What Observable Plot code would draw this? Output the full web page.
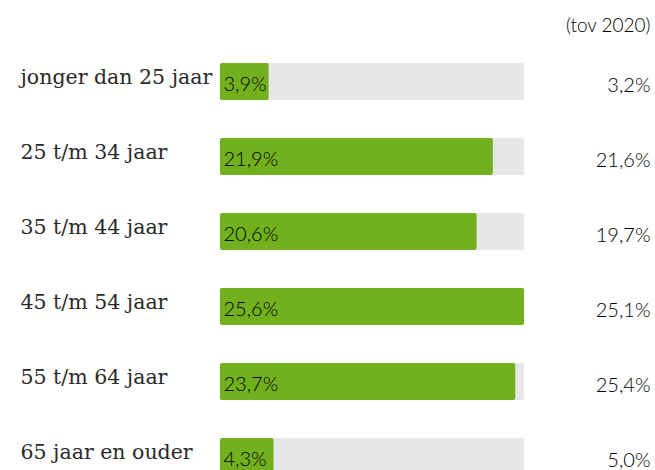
<!DOCTYPE html>
<html><head><meta charset="utf-8">
<script src="https://cdn.jsdelivr.net/npm/d3@7"></script>
<script src="https://cdn.jsdelivr.net/npm/@observablehq/plot@0.6"></script>
<style>body{margin:0;background:#fff}</style>
</head><body><div id="chart"></div>
<script>
const categories = ["jonger dan 25 jaar","25 t/m 34 jaar","35 t/m 44 jaar","45 t/m 54 jaar","55 t/m 64 jaar","65 jaar en ouder"];
const values2021 = [3.9, 21.9, 20.6, 25.6, 23.7, 4.3];
const values2020 = [3.2, 21.6, 19.7, 25.1, 25.4, 5.0];
const compareLabel = "(tov 2020)";
const fmt = v => v.toFixed(1).replace(".", ",") + "%";
const data = categories.map((c, i) => ({cat: c, v: values2021[i], p: values2020[i]}));
const maxV = d3.max(values2021);
const labelFont = "'DejaVu Serif', serif";
const numFont = "Lato, 'Open Sans', sans-serif";
const plot = Plot.plot({
  width: 655, height: 470,
  marginLeft: 0, marginRight: 0, marginTop: 0, marginBottom: 0,
  x: {domain: [0, 24.4], range: [220, 524], clamp: true, axis: null},
  y: {domain: categories, range: [63, 475], paddingInner: 38/75, paddingOuter: 0, axis: null},
  marks: [
    Plot.barX(data, {y: "cat", x1: 0, x2: maxV, fill: "#e7e7e7", rx: 2}),
    Plot.barX(data, {y: "cat", x1: 0, x2: "v", fill: "#72b01d", rx: 2}),
    Plot.text(data, {y: "cat", x: 0, text: d => fmt(d.v), textAnchor: "start", dx: 3, dy: 3, fontSize: 20, fontWeight: 300, fontFamily: numFont, fill: "#000"}),
    Plot.text(data, {y: "cat", frameAnchor: "left", text: "cat", textAnchor: "start", dx: 20, dy: -5, fontSize: 20.5, fontFamily: labelFont, fill: "#2a2a2a"}),
    Plot.text(data, {y: "cat", frameAnchor: "right", text: d => fmt(d.p), textAnchor: "end", dx: -5, dy: 4, fontSize: 20, fontWeight: 300, fontFamily: numFont, fill: "#000"}),
    Plot.text([compareLabel], {frameAnchor: "top-right", text: d => d, textAnchor: "end", lineAnchor: "middle", dx: -5, dy: 25, fontSize: 19, fontWeight: 300, fontFamily: numFont, fill: "#000"})
  ]
});
document.getElementById("chart").appendChild(plot);
</script></body></html>
